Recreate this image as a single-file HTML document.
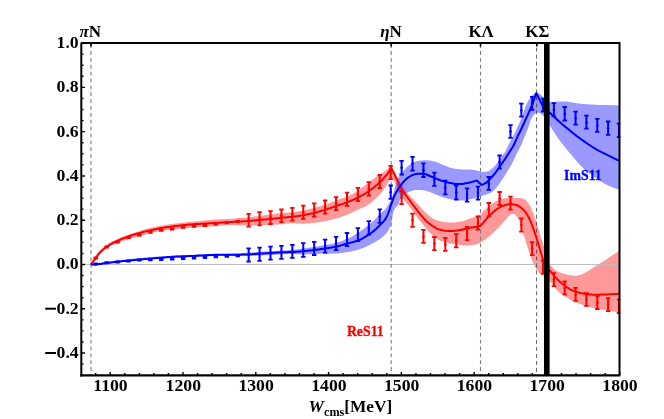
<!DOCTYPE html>
<html><head><meta charset="utf-8"><title>S11</title>
<style>html,body{margin:0;padding:0;background:#fff;font-family:"Liberation Serif",serif;}svg{display:block;will-change:transform}</style></head>
<body>
<svg width="664" height="419" viewBox="0 0 664 419">
<rect width="664" height="419" fill="#fff"/>
<defs><clipPath id="c"><rect x="81.3" y="43.4" width="539.0" height="331.8"/></clipPath></defs>
<g clip-path="url(#c)">
<polygon points="90.8,264.2 91.8,262.2 92.8,260.3 93.8,258.5 94.8,256.9 95.8,255.5 96.8,254.2 97.8,253.0 98.8,251.9 99.8,250.8 100.8,249.8 101.8,248.8 102.8,247.9 103.8,247.0 104.8,246.2 105.8,245.5 106.8,244.8 107.8,244.1 108.8,243.5 109.8,242.9 110.8,242.3 111.8,241.8 112.8,241.3 113.8,240.8 114.8,240.3 115.8,239.8 116.8,239.4 117.8,238.9 118.8,238.4 119.8,238.0 120.8,237.6 121.8,237.1 122.8,236.7 123.8,236.3 124.8,235.9 125.8,235.5 126.8,235.2 127.8,234.8 128.8,234.4 129.8,234.1 130.8,233.8 131.8,233.5 132.8,233.2 133.8,232.9 134.8,232.6 135.8,232.3 136.8,232.0 137.8,231.7 138.8,231.4 139.8,231.1 140.8,230.7 141.9,230.4 142.9,230.1 143.9,229.8 144.9,229.5 145.9,229.1 146.9,228.8 147.9,228.6 148.9,228.3 149.9,228.0 150.9,227.8 151.9,227.6 152.9,227.4 153.9,227.1 154.9,226.9 155.9,226.7 156.9,226.5 157.9,226.3 158.9,226.1 159.9,226.0 160.9,225.8 161.9,225.6 162.9,225.4 163.9,225.3 164.9,225.1 165.9,224.9 166.9,224.8 167.9,224.6 168.9,224.5 169.9,224.3 170.9,224.2 171.9,224.0 172.9,223.9 173.9,223.8 174.9,223.6 175.9,223.5 176.9,223.4 177.9,223.2 178.9,223.1 179.9,223.0 180.9,222.9 181.9,222.8 182.9,222.7 183.9,222.6 184.9,222.4 185.9,222.3 186.9,222.2 187.9,222.1 188.9,222.0 189.9,221.9 190.9,221.8 191.9,221.7 192.9,221.6 193.9,221.5 194.9,221.4 195.9,221.3 196.9,221.2 197.9,221.1 198.9,221.0 199.9,220.9 200.9,220.8 201.9,220.7 202.9,220.6 203.9,220.5 204.9,220.4 205.9,220.3 206.9,220.2 207.9,220.1 208.9,220.0 209.9,219.9 210.9,219.9 211.9,219.8 212.9,219.7 213.9,219.6 214.9,219.6 215.9,219.5 216.9,219.4 217.9,219.4 218.9,219.3 219.9,219.3 220.9,219.2 221.9,219.2 222.9,219.1 223.9,219.1 224.9,219.1 225.9,219.0 226.9,219.0 227.9,218.9 228.9,218.9 229.9,218.8 230.9,218.7 231.9,218.7 232.9,218.6 233.9,218.5 234.9,218.4 235.9,218.4 236.9,218.3 237.9,218.2 238.9,218.1 239.9,218.0 240.9,217.9 242.0,217.8 243.0,217.8 244.0,217.7 245.0,217.6 246.0,217.5 247.0,217.4 248.0,217.3 249.0,217.2 250.0,217.1 251.0,217.0 252.0,216.9 253.0,216.7 254.0,216.6 255.0,216.5 256.0,216.4 257.0,216.3 258.0,216.2 259.0,216.1 260.0,216.0 261.0,215.8 262.0,215.7 263.0,215.6 264.0,215.4 265.0,215.3 266.0,215.1 267.0,215.0 268.0,214.8 269.0,214.7 270.0,214.6 271.0,214.4 272.0,214.3 273.0,214.2 274.0,214.0 275.0,213.9 276.0,213.7 277.0,213.6 278.0,213.5 279.0,213.4 280.0,213.2 281.0,213.1 282.0,213.0 283.0,213.0 284.0,212.9 285.0,212.8 286.0,212.8 287.0,212.7 288.0,212.6 289.0,212.6 290.0,212.5 291.0,212.4 292.0,212.3 293.0,212.2 294.0,212.1 295.0,212.0 296.0,211.8 297.0,211.6 298.0,211.4 299.0,211.3 300.0,211.1 301.0,210.9 302.0,210.7 303.0,210.5 304.0,210.3 305.0,210.0 306.0,209.8 307.0,209.6 308.0,209.4 309.0,209.1 310.0,208.9 311.0,208.6 312.0,208.4 313.0,208.1 314.0,207.8 315.0,207.6 316.0,207.3 317.0,207.0 318.0,206.8 319.0,206.5 320.0,206.2 321.0,205.9 322.0,205.6 323.0,205.3 324.0,204.9 325.0,204.6 326.0,204.3 327.0,203.9 328.0,203.6 329.0,203.2 330.0,202.8 331.0,202.5 332.0,202.1 333.0,201.7 334.0,201.3 335.0,201.0 336.0,200.6 337.0,200.2 338.0,199.9 339.0,199.5 340.0,199.1 341.1,198.8 342.1,198.4 343.1,198.0 344.1,197.7 345.1,197.3 346.1,197.0 347.1,196.6 348.1,196.2 349.1,195.8 350.1,195.3 351.1,194.8 352.1,194.3 353.1,193.7 354.1,193.1 355.1,192.4 356.1,191.8 357.1,191.1 358.1,190.4 359.1,189.7 360.1,189.0 361.1,188.3 362.1,187.5 363.1,186.8 364.1,186.0 365.1,185.2 366.1,184.5 367.1,183.7 368.1,182.9 369.1,182.2 370.1,181.4 371.1,180.6 372.1,179.9 373.1,179.1 374.1,178.4 375.1,177.7 376.1,176.9 377.1,176.3 378.1,175.6 379.1,175.0 380.1,174.3 381.1,173.7 382.1,173.0 383.1,172.4 384.1,171.7 385.1,171.0 386.1,170.3 387.1,169.5 388.1,168.7 389.1,167.8 390.1,166.8 391.1,165.8 392.1,167.6 393.1,169.4 394.1,171.2 395.1,173.1 396.1,175.0 397.1,176.8 398.1,178.6 399.2,180.3 400.2,182.0 401.2,183.7 402.2,185.3 403.2,187.0 404.2,188.7 405.2,190.4 406.2,191.8 407.2,193.0 408.2,194.0 409.2,195.1 410.2,196.1 411.2,197.2 412.2,198.2 413.2,199.3 414.3,200.3 415.3,201.4 416.3,202.5 417.3,203.6 418.3,204.7 419.3,205.8 420.3,206.9 421.3,208.0 422.3,209.1 423.3,210.2 424.3,211.2 425.3,212.2 426.3,213.2 427.3,214.2 428.3,215.1 429.4,215.9 430.4,216.7 431.4,217.5 432.4,218.2 433.4,218.7 434.4,219.2 435.4,219.7 436.4,220.1 437.4,220.4 438.4,220.7 439.4,221.0 440.4,221.3 441.4,221.6 442.4,221.8 443.5,221.9 444.5,222.0 445.5,222.2 446.5,222.2 447.5,222.3 448.5,222.4 449.5,222.5 450.5,222.5 451.5,222.5 452.5,222.5 453.5,222.4 454.5,222.4 455.5,222.3 456.5,222.2 457.5,222.1 458.6,222.0 459.6,221.8 460.6,221.6 461.6,221.4 462.6,221.2 463.6,220.9 464.6,220.6 465.6,220.2 466.6,219.8 467.6,219.5 468.6,219.1 469.6,218.7 470.6,218.3 471.6,218.0 472.6,217.6 473.7,217.2 474.7,216.8 475.7,216.4 476.7,216.0 477.7,215.6 478.7,215.1 479.7,214.7 480.7,214.3 481.7,212.9 482.7,211.7 483.7,210.7 484.7,209.8 485.7,209.0 486.7,208.2 487.7,207.4 488.7,206.5 489.7,205.7 490.7,205.0 491.7,204.2 492.7,203.4 493.7,202.7 494.7,202.0 495.7,201.4 496.7,200.8 497.7,200.4 498.7,200.0 499.7,199.6 500.7,199.3 501.7,199.0 502.7,198.8 503.7,198.6 504.7,198.4 505.7,198.3 506.7,198.2 507.7,198.2 508.7,198.2 509.7,198.1 510.7,198.1 511.7,198.1 512.7,198.0 513.7,198.0 514.7,198.0 515.7,198.0 516.7,198.0 517.7,198.0 518.7,198.1 519.7,198.1 520.7,198.2 521.7,198.2 522.7,198.5 523.7,198.9 524.7,199.4 525.7,200.1 526.7,201.1 527.7,202.3 528.7,203.7 529.7,205.5 530.7,207.4 531.7,209.6 532.7,212.1 533.7,214.6 534.7,217.3 535.7,220.1 536.7,223.1 537.7,226.3 538.7,229.6 539.7,232.9 540.7,236.4 541.7,239.8 542.7,242.6 543.7,245.2 544.7,248.3 545.7,251.7 546.7,255.0 547.7,258.2 548.7,261.1 549.7,264.0 550.7,265.4 551.7,266.6 552.7,267.7 553.7,268.7 554.7,269.5 555.7,270.3 556.7,270.9 557.7,271.5 558.7,271.9 559.7,272.4 560.7,272.8 561.7,273.1 562.7,273.4 563.7,273.7 564.7,274.0 565.7,274.2 566.7,274.5 567.7,274.7 568.7,274.9 569.7,275.1 570.7,275.2 571.7,275.4 572.7,275.5 573.7,275.6 574.7,275.7 575.7,275.7 576.7,275.7 577.7,275.5 578.7,275.3 579.7,275.1 580.7,274.8 581.7,274.5 582.7,274.0 583.7,273.5 584.7,272.9 585.7,272.4 586.7,271.8 587.7,271.2 588.7,270.6 589.7,269.9 590.7,269.3 591.7,268.7 592.7,268.0 593.7,267.4 594.7,266.8 595.7,266.1 596.7,265.5 597.7,264.9 598.7,264.2 599.7,263.6 600.7,263.0 601.7,262.3 602.7,261.7 603.7,261.1 604.7,260.4 605.7,259.8 606.7,259.1 607.7,258.4 608.7,257.8 609.7,257.1 610.7,256.4 611.7,255.7 612.7,255.1 613.7,254.5 614.7,253.8 615.7,253.2 616.7,252.6 617.7,252.0 618.7,251.5 619.7,250.9 619.7,312.2 618.7,312.1 617.7,311.9 616.7,311.8 615.7,311.7 614.7,311.6 613.7,311.4 612.7,311.3 611.7,311.2 610.7,311.1 609.7,311.0 608.7,310.8 607.7,310.7 606.7,310.5 605.7,310.3 604.7,310.1 603.7,309.9 602.7,309.8 601.7,309.6 600.7,309.5 599.7,309.3 598.7,309.2 597.7,309.0 596.7,308.8 595.7,308.6 594.7,308.3 593.7,308.1 592.7,307.8 591.7,307.6 590.7,307.3 589.7,307.0 588.7,306.7 587.7,306.4 586.7,306.1 585.7,305.8 584.7,305.5 583.7,305.2 582.7,304.9 581.7,304.6 580.7,304.3 579.7,303.9 578.7,303.6 577.7,303.2 576.7,302.8 575.7,302.4 574.7,302.0 573.7,301.5 572.7,301.0 571.7,300.5 570.7,299.9 569.7,299.4 568.7,298.7 567.7,298.1 566.7,297.4 565.7,296.8 564.7,296.2 563.7,295.6 562.7,295.0 561.7,294.3 560.7,293.6 559.7,292.8 558.7,291.9 557.7,290.8 556.7,289.7 555.7,288.4 554.7,287.2 553.7,286.0 552.7,284.6 551.7,283.3 550.7,282.0 549.7,280.9 548.7,280.0 547.7,279.2 546.7,278.4 545.7,277.7 544.7,277.0 543.7,276.3 542.7,275.7 541.7,275.0 540.7,274.3 539.7,273.4 538.7,272.3 537.7,271.0 536.7,269.7 535.7,268.0 534.7,266.2 533.7,264.2 532.7,261.9 531.7,259.4 530.7,256.8 529.7,254.0 528.7,250.9 527.7,247.7 526.7,244.5 525.7,241.2 524.7,238.0 523.7,235.1 522.7,232.0 521.7,228.0 520.7,224.2 519.7,221.5 518.7,219.6 517.7,217.9 516.7,216.4 515.7,215.2 514.7,214.2 513.7,213.9 512.7,213.9 511.7,214.1 510.7,214.6 509.7,215.3 508.7,216.2 507.7,217.2 506.7,218.4 505.7,219.6 504.7,220.7 503.7,221.9 502.7,223.0 501.7,224.1 500.7,225.2 499.7,226.3 498.7,227.4 497.7,228.4 496.7,229.5 495.7,230.4 494.7,231.4 493.7,232.4 492.7,233.3 491.7,234.2 490.7,235.1 489.7,236.0 488.7,236.8 487.7,237.6 486.7,238.4 485.7,239.2 484.7,239.9 483.7,240.6 482.7,241.3 481.7,242.0 480.7,242.6 479.7,243.1 478.7,243.6 477.7,244.0 476.7,244.3 475.7,244.5 474.7,244.7 473.7,244.9 472.6,245.0 471.6,245.1 470.6,245.2 469.6,245.3 468.6,245.4 467.6,245.4 466.6,245.4 465.6,245.3 464.6,245.3 463.6,245.2 462.6,245.2 461.6,245.1 460.6,245.0 459.6,244.8 458.6,244.7 457.5,244.6 456.5,244.5 455.5,244.3 454.5,244.2 453.5,244.0 452.5,243.9 451.5,243.8 450.5,243.6 449.5,243.4 448.5,243.2 447.5,242.9 446.5,242.7 445.5,242.4 444.5,242.1 443.5,241.8 442.4,241.5 441.4,241.1 440.4,240.7 439.4,240.2 438.4,239.7 437.4,239.1 436.4,238.4 435.4,237.7 434.4,237.0 433.4,236.1 432.4,235.2 431.4,234.3 430.4,233.3 429.4,232.2 428.3,231.1 427.3,229.9 426.3,228.7 425.3,227.5 424.3,226.2 423.3,224.8 422.3,223.6 421.3,222.5 420.3,221.4 419.3,220.2 418.3,218.9 417.3,217.5 416.3,216.1 415.3,214.6 414.3,213.2 413.2,211.7 412.2,210.3 411.2,208.9 410.2,207.6 409.2,206.4 408.2,205.2 407.2,204.0 406.2,202.9 405.2,201.6 404.2,200.4 403.2,199.1 402.2,197.8 401.2,196.5 400.2,194.9 399.2,193.0 398.1,190.6 397.1,188.1 396.1,185.6 395.1,183.3 394.1,181.2 393.1,179.2 392.1,177.3 391.1,175.5 390.1,178.7 389.1,180.8 388.1,182.5 387.1,184.3 386.1,186.0 385.1,187.6 384.1,189.1 383.1,190.5 382.1,191.8 381.1,193.0 380.1,194.2 379.1,195.3 378.1,196.3 377.1,197.3 376.1,198.3 375.1,199.2 374.1,200.1 373.1,200.9 372.1,201.7 371.1,202.6 370.1,203.4 369.1,204.1 368.1,204.8 367.1,205.5 366.1,206.0 365.1,206.5 364.1,207.0 363.1,207.4 362.1,207.9 361.1,208.3 360.1,208.8 359.1,209.3 358.1,209.8 357.1,210.2 356.1,210.7 355.1,211.2 354.1,211.6 353.1,212.1 352.1,212.6 351.1,213.0 350.1,213.5 349.1,213.9 348.1,214.3 347.1,214.7 346.1,215.1 345.1,215.5 344.1,215.9 343.1,216.2 342.1,216.6 341.1,216.9 340.0,217.3 339.0,217.6 338.0,217.9 337.0,218.2 336.0,218.5 335.0,218.8 334.0,219.0 333.0,219.3 332.0,219.6 331.0,219.9 330.0,220.1 329.0,220.3 328.0,220.6 327.0,220.8 326.0,221.0 325.0,221.2 324.0,221.4 323.0,221.6 322.0,221.8 321.0,221.9 320.0,222.1 319.0,222.3 318.0,222.4 317.0,222.6 316.0,222.7 315.0,222.8 314.0,222.9 313.0,223.0 312.0,223.1 311.0,223.2 310.0,223.3 309.0,223.4 308.0,223.5 307.0,223.6 306.0,223.6 305.0,223.7 304.0,223.7 303.0,223.7 302.0,223.7 301.0,223.6 300.0,223.6 299.0,223.5 298.0,223.5 297.0,223.4 296.0,223.3 295.0,223.3 294.0,223.2 293.0,223.2 292.0,223.2 291.0,223.2 290.0,223.3 289.0,223.4 288.0,223.5 287.0,223.6 286.0,223.7 285.0,223.8 284.0,223.9 283.0,224.1 282.0,224.2 281.0,224.2 280.0,224.3 279.0,224.4 278.0,224.4 277.0,224.5 276.0,224.6 275.0,224.6 274.0,224.7 273.0,224.8 272.0,224.8 271.0,224.9 270.0,224.9 269.0,225.0 268.0,225.0 267.0,225.1 266.0,225.1 265.0,225.2 264.0,225.2 263.0,225.3 262.0,225.3 261.0,225.4 260.0,225.4 259.0,225.4 258.0,225.4 257.0,225.5 256.0,225.5 255.0,225.5 254.0,225.5 253.0,225.6 252.0,225.6 251.0,225.6 250.0,225.6 249.0,225.6 248.0,225.6 247.0,225.6 246.0,225.6 245.0,225.6 244.0,225.5 243.0,225.5 242.0,225.5 240.9,225.5 239.9,225.4 238.9,225.4 237.9,225.4 236.9,225.3 235.9,225.3 234.9,225.2 233.9,225.1 232.9,225.1 231.9,225.0 230.9,225.0 229.9,225.0 228.9,225.0 227.9,225.1 226.9,225.1 225.9,225.2 224.9,225.3 223.9,225.4 222.9,225.5 221.9,225.6 220.9,225.8 219.9,225.9 218.9,226.0 217.9,226.1 216.9,226.2 215.9,226.3 214.9,226.4 213.9,226.4 212.9,226.5 211.9,226.6 210.9,226.6 209.9,226.7 208.9,226.7 207.9,226.8 206.9,226.8 205.9,226.9 204.9,227.0 203.9,227.0 202.9,227.1 201.9,227.1 200.9,227.2 199.9,227.2 198.9,227.3 197.9,227.3 196.9,227.4 195.9,227.5 194.9,227.5 193.9,227.6 192.9,227.7 191.9,227.8 190.9,227.8 189.9,227.9 188.9,228.0 187.9,228.1 186.9,228.2 185.9,228.3 184.9,228.4 183.9,228.5 182.9,228.5 181.9,228.6 180.9,228.7 179.9,228.8 178.9,228.9 177.9,229.1 176.9,229.2 175.9,229.3 174.9,229.4 173.9,229.5 172.9,229.6 171.9,229.7 170.9,229.8 169.9,230.0 168.9,230.1 167.9,230.2 166.9,230.3 165.9,230.4 164.9,230.6 163.9,230.7 162.9,230.8 161.9,231.0 160.9,231.1 159.9,231.2 158.9,231.4 157.9,231.5 156.9,231.7 155.9,231.9 154.9,232.0 153.9,232.2 152.9,232.4 151.9,232.6 150.9,232.8 149.9,233.0 148.9,233.3 147.9,233.6 146.9,233.9 145.9,234.3 144.9,234.7 143.9,235.0 142.9,235.4 141.9,235.8 140.8,236.2 139.8,236.5 138.8,236.8 137.8,237.0 136.8,237.2 135.8,237.5 134.8,237.7 133.8,237.9 132.8,238.1 131.8,238.3 130.8,238.6 129.8,238.8 128.8,239.1 127.8,239.4 126.8,239.7 125.8,240.0 124.8,240.4 123.8,240.7 122.8,241.1 121.8,241.5 120.8,241.9 119.8,242.3 118.8,242.7 117.8,243.1 116.8,243.5 115.8,243.9 114.8,244.3 113.8,244.7 112.8,245.1 111.8,245.5 110.8,246.0 109.8,246.4 108.8,246.9 107.8,247.5 106.8,248.1 105.8,248.7 104.8,249.5 103.8,250.4 102.8,251.4 101.8,252.4 100.8,253.6 99.8,254.7 98.8,255.8 97.8,257.0 96.8,258.1 95.8,259.2 94.8,260.2 93.8,261.3 92.8,262.4 91.8,263.5 90.8,264.6" fill="rgba(255,0,0,0.4)" stroke="none"/>
<polygon points="90.8,264.2 91.8,264.0 92.8,263.9 93.8,263.7 94.8,263.5 95.8,263.4 96.8,263.2 97.8,263.1 98.8,262.9 99.8,262.8 100.8,262.6 101.8,262.5 102.8,262.3 103.8,262.2 104.8,262.0 105.8,261.9 106.8,261.8 107.8,261.6 108.8,261.5 109.8,261.4 110.8,261.2 111.8,261.1 112.8,261.0 113.8,260.9 114.8,260.7 115.8,260.6 116.8,260.5 117.8,260.4 118.8,260.3 119.8,260.1 120.9,260.0 121.9,259.9 122.9,259.8 123.9,259.7 124.9,259.6 125.9,259.5 126.9,259.4 127.9,259.3 128.9,259.2 129.9,259.0 130.9,258.9 131.9,258.8 132.9,258.7 133.9,258.6 134.9,258.5 135.9,258.4 136.9,258.3 137.9,258.2 138.9,258.2 139.9,258.1 140.9,258.0 141.9,257.9 142.9,257.8 143.9,257.7 144.9,257.6 145.9,257.5 146.9,257.4 147.9,257.4 148.9,257.3 149.9,257.2 150.9,257.1 151.9,257.1 152.9,257.0 153.9,256.9 154.9,256.8 155.9,256.8 156.9,256.7 157.9,256.6 158.9,256.6 159.9,256.5 160.9,256.5 161.9,256.4 162.9,256.3 163.9,256.3 164.9,256.2 165.9,256.2 166.9,256.1 167.9,256.0 168.9,256.0 169.9,255.9 170.9,255.9 171.9,255.8 172.9,255.8 173.9,255.7 174.9,255.6 175.9,255.6 176.9,255.5 177.9,255.5 179.0,255.4 180.0,255.4 181.0,255.3 182.0,255.3 183.0,255.2 184.0,255.2 185.0,255.1 186.0,255.1 187.0,255.0 188.0,255.0 189.0,254.9 190.0,254.9 191.0,254.8 192.0,254.8 193.0,254.7 194.0,254.7 195.0,254.7 196.0,254.6 197.0,254.6 198.0,254.5 199.0,254.5 200.0,254.5 201.0,254.4 202.0,254.4 203.0,254.4 204.0,254.3 205.0,254.3 206.0,254.3 207.0,254.2 208.0,254.2 209.0,254.2 210.0,254.1 211.0,254.1 212.0,254.1 213.0,254.1 214.0,254.0 215.0,254.0 216.0,254.0 217.0,254.0 218.0,254.0 219.0,254.0 220.0,253.9 221.0,253.9 222.0,253.9 223.0,253.9 224.0,253.9 225.0,253.9 226.0,253.9 227.0,253.9 228.0,253.8 229.0,253.8 230.0,253.8 231.0,253.8 232.0,253.7 233.0,253.7 234.0,253.7 235.0,253.6 236.0,253.5 237.0,253.5 238.1,253.4 239.1,253.4 240.1,253.3 241.1,253.2 242.1,253.2 243.1,253.1 244.1,253.0 245.1,252.9 246.1,252.9 247.1,252.8 248.1,252.7 249.1,252.7 250.1,252.6 251.1,252.5 252.1,252.5 253.1,252.4 254.1,252.3 255.1,252.3 256.1,252.2 257.1,252.1 258.1,252.0 259.1,252.0 260.1,251.9 261.1,251.8 262.1,251.8 263.1,251.7 264.1,251.6 265.1,251.6 266.1,251.5 267.1,251.4 268.1,251.4 269.1,251.3 270.1,251.2 271.1,251.2 272.1,251.1 273.1,251.1 274.1,251.0 275.1,250.9 276.1,250.9 277.1,250.8 278.1,250.8 279.1,250.7 280.1,250.7 281.1,250.6 282.1,250.6 283.1,250.5 284.1,250.5 285.1,250.4 286.1,250.3 287.1,250.2 288.1,250.2 289.1,250.1 290.1,250.0 291.1,249.9 292.1,249.8 293.1,249.7 294.1,249.6 295.1,249.5 296.1,249.4 297.2,249.3 298.2,249.2 299.2,249.0 300.2,248.9 301.2,248.8 302.2,248.6 303.2,248.5 304.2,248.4 305.2,248.2 306.2,248.1 307.2,248.0 308.2,247.8 309.2,247.7 310.2,247.5 311.2,247.4 312.2,247.2 313.2,247.1 314.2,246.9 315.2,246.7 316.2,246.6 317.2,246.4 318.2,246.2 319.2,246.1 320.2,245.9 321.2,245.7 322.2,245.5 323.2,245.4 324.2,245.2 325.2,245.0 326.2,244.8 327.2,244.6 328.2,244.4 329.2,244.2 330.2,244.1 331.2,243.9 332.2,243.7 333.2,243.4 334.2,243.2 335.2,243.0 336.2,242.7 337.2,242.5 338.2,242.2 339.2,241.9 340.2,241.6 341.2,241.2 342.2,240.9 343.2,240.5 344.2,240.1 345.2,239.8 346.2,239.3 347.2,238.9 348.2,238.4 349.2,237.9 350.2,237.4 351.2,236.9 352.2,236.4 353.2,235.8 354.2,235.2 355.3,234.6 356.3,234.0 357.3,233.4 358.3,232.7 359.3,232.0 360.3,231.3 361.3,230.6 362.3,229.9 363.3,229.1 364.3,228.4 365.3,227.6 366.3,226.8 367.3,226.1 368.3,225.2 369.3,224.4 370.3,223.6 371.3,222.7 372.3,221.8 373.3,220.9 374.3,219.9 375.3,219.0 376.3,218.0 377.3,217.0 378.3,216.0 379.3,215.1 380.3,214.1 381.3,213.1 382.3,212.1 383.3,211.1 384.3,210.1 385.3,208.9 386.3,207.7 387.3,206.2 388.3,204.6 389.3,203.0 390.3,201.2 391.3,199.0 392.3,196.1 393.3,193.1 394.3,189.8 395.3,186.6 396.3,183.3 397.3,180.1 398.3,177.6 399.3,175.9 400.3,174.5 401.3,173.3 402.3,172.1 403.3,171.0 404.3,169.9 405.3,168.8 406.3,167.7 407.3,166.7 408.3,165.8 409.3,165.0 410.3,164.3 411.3,163.5 412.3,162.9 413.3,162.3 414.4,161.9 415.4,161.6 416.4,161.3 417.4,161.1 418.4,160.9 419.4,160.7 420.4,160.6 421.4,160.5 422.4,160.4 423.4,160.3 424.4,160.2 425.4,160.2 426.4,160.2 427.4,160.3 428.4,160.4 429.4,160.5 430.4,160.6 431.4,160.7 432.4,160.9 433.4,161.2 434.4,161.5 435.4,161.7 436.4,162.1 437.4,162.4 438.4,162.9 439.4,163.3 440.4,163.8 441.4,164.2 442.4,164.7 443.4,165.1 444.4,165.5 445.4,165.9 446.4,166.3 447.4,166.6 448.4,167.0 449.4,167.4 450.4,167.7 451.4,168.0 452.4,168.2 453.4,168.5 454.4,168.7 455.4,168.8 456.4,169.0 457.4,169.1 458.4,169.2 459.4,169.2 460.4,169.3 461.4,169.4 462.4,169.4 463.4,169.4 464.4,169.4 465.4,169.4 466.4,169.4 467.4,169.4 468.4,169.4 469.4,169.4 470.4,169.5 471.4,169.6 472.4,169.8 473.5,169.9 474.5,170.1 475.5,170.3 476.5,170.6 477.5,170.8 478.5,171.1 479.5,171.3 480.5,171.5 481.5,171.7 482.5,171.9 483.5,172.0 484.5,172.0 485.5,171.8 486.5,171.6 487.5,171.4 488.5,171.0 489.5,170.4 490.5,169.8 491.5,169.1 492.5,168.3 493.5,167.3 494.5,166.3 495.5,165.2 496.5,163.9 497.5,162.6 498.5,161.3 499.5,159.9 500.5,158.5 501.5,157.0 502.5,155.6 503.5,154.3 504.5,152.9 505.5,151.2 506.5,149.0 507.5,146.9 508.5,145.0 509.5,143.1 510.5,141.3 511.5,139.4 512.5,137.5 513.5,135.5 514.5,133.5 515.5,131.4 516.5,129.3 517.5,127.1 518.5,124.9 519.5,122.6 520.5,120.2 521.5,117.6 522.5,114.9 523.5,112.1 524.5,109.5 525.5,106.8 526.5,104.3 527.5,102.3 528.5,100.5 529.5,99.0 530.5,97.5 531.6,96.2 532.6,95.0 533.6,94.1 534.6,93.2 535.6,92.5 536.6,92.4 537.6,92.8 538.6,93.3 539.6,93.9 540.6,94.6 541.6,95.4 542.6,96.3 543.6,97.3 544.6,98.2 545.6,99.2 546.6,100.1 547.6,100.9 548.6,101.6 549.6,101.8 550.6,101.9 551.6,101.9 552.6,102.0 553.6,102.0 554.6,102.0 555.6,101.8 556.6,101.6 557.6,101.6 558.6,101.5 559.6,101.5 560.6,101.5 561.6,101.4 562.6,101.4 563.6,101.4 564.6,101.4 565.6,101.5 566.6,101.5 567.6,101.7 568.6,101.9 569.6,102.0 570.6,102.2 571.6,102.4 572.6,102.6 573.6,102.8 574.6,102.9 575.6,103.0 576.6,103.2 577.6,103.3 578.6,103.4 579.6,103.6 580.6,103.7 581.6,103.8 582.6,103.9 583.6,104.0 584.6,104.1 585.6,104.2 586.6,104.2 587.6,104.3 588.6,104.4 589.6,104.4 590.7,104.5 591.7,104.5 592.7,104.6 593.7,104.6 594.7,104.7 595.7,104.7 596.7,104.8 597.7,104.8 598.7,104.9 599.7,104.9 600.7,104.9 601.7,105.0 602.7,105.0 603.7,105.0 604.7,105.0 605.7,105.1 606.7,105.1 607.7,105.1 608.7,105.1 609.7,105.1 610.7,105.2 611.7,105.2 612.7,105.2 613.7,105.2 614.7,105.3 615.7,105.3 616.7,105.3 617.7,105.3 618.7,105.4 619.7,105.4 619.7,189.9 618.7,189.6 617.7,189.3 616.7,188.9 615.7,188.6 614.7,188.2 613.7,187.8 612.7,187.4 611.7,187.0 610.7,186.6 609.7,186.2 608.7,185.7 607.7,185.3 606.7,184.8 605.7,184.3 604.7,183.7 603.7,183.2 602.7,182.6 601.7,182.0 600.7,181.3 599.7,180.7 598.7,180.0 597.7,179.3 596.7,178.6 595.7,177.9 594.7,177.2 593.7,176.4 592.7,175.7 591.7,175.0 590.7,174.2 589.6,173.4 588.6,172.7 587.6,171.9 586.6,171.0 585.6,170.2 584.6,169.4 583.6,168.5 582.6,167.6 581.6,166.6 580.6,165.6 579.6,164.6 578.6,163.4 577.6,162.3 576.6,161.1 575.6,159.9 574.6,158.7 573.6,157.5 572.6,156.4 571.6,155.2 570.6,154.0 569.6,152.9 568.6,151.7 567.6,150.5 566.6,149.2 565.6,148.0 564.6,146.8 563.6,145.6 562.6,144.3 561.6,143.1 560.6,141.7 559.6,140.4 558.6,139.0 557.6,137.6 556.6,136.1 555.6,134.6 554.6,133.0 553.6,131.5 552.6,129.9 551.6,128.3 550.6,126.7 549.6,125.1 548.6,123.5 547.6,121.8 546.6,120.1 545.6,118.5 544.6,117.1 543.6,116.0 542.6,115.0 541.6,114.2 540.6,113.6 539.6,113.1 538.6,112.7 537.6,112.6 536.6,112.9 535.6,113.5 534.6,114.3 533.6,115.3 532.6,116.6 531.6,118.3 530.5,120.7 529.5,123.7 528.5,126.8 527.5,129.4 526.5,132.0 525.5,134.5 524.5,136.9 523.5,139.4 522.5,141.9 521.5,144.4 520.5,146.6 519.5,148.6 518.5,150.2 517.5,152.0 516.5,154.1 515.5,156.2 514.5,158.4 513.5,160.4 512.5,162.5 511.5,164.4 510.5,166.2 509.5,167.8 508.5,169.4 507.5,171.0 506.5,172.7 505.5,174.4 504.5,176.0 503.5,177.6 502.5,179.1 501.5,180.7 500.5,182.1 499.5,183.5 498.5,184.9 497.5,186.2 496.5,187.4 495.5,188.6 494.5,189.7 493.5,190.7 492.5,191.5 491.5,192.2 490.5,192.8 489.5,193.3 488.5,193.7 487.5,194.1 486.5,194.4 485.5,194.7 484.5,195.1 483.5,195.4 482.5,195.7 481.5,196.1 480.5,196.5 479.5,196.9 478.5,197.4 477.5,197.9 476.5,198.1 475.5,198.3 474.5,198.5 473.5,198.6 472.4,198.8 471.4,199.0 470.4,199.2 469.4,199.5 468.4,199.8 467.4,200.1 466.4,200.4 465.4,200.5 464.4,200.5 463.4,200.5 462.4,200.5 461.4,200.4 460.4,200.4 459.4,200.4 458.4,200.3 457.4,200.2 456.4,200.1 455.4,200.0 454.4,199.8 453.4,199.7 452.4,199.6 451.4,199.4 450.4,199.2 449.4,199.0 448.4,198.8 447.4,198.6 446.4,198.3 445.4,198.0 444.4,197.7 443.4,197.4 442.4,197.1 441.4,196.8 440.4,196.4 439.4,196.0 438.4,195.6 437.4,195.2 436.4,194.8 435.4,194.4 434.4,193.9 433.4,193.5 432.4,193.1 431.4,192.7 430.4,192.3 429.4,191.9 428.4,191.6 427.4,191.2 426.4,190.9 425.4,190.6 424.4,190.4 423.4,190.3 422.4,190.2 421.4,190.1 420.4,190.1 419.4,190.0 418.4,190.0 417.4,190.0 416.4,190.0 415.4,190.1 414.4,190.3 413.3,190.5 412.3,190.8 411.3,191.1 410.3,191.5 409.3,191.8 408.3,192.2 407.3,192.7 406.3,193.3 405.3,193.9 404.3,194.6 403.3,195.3 402.3,196.3 401.3,197.5 400.3,199.3 399.3,201.8 398.3,204.9 397.3,206.0 396.3,206.7 395.3,207.9 394.3,209.6 393.3,211.7 392.3,218.3 391.3,223.5 390.3,226.5 389.3,228.7 388.3,230.4 387.3,231.9 386.3,233.2 385.3,234.3 384.3,235.3 383.3,236.2 382.3,237.1 381.3,237.9 380.3,238.6 379.3,239.4 378.3,240.0 377.3,240.7 376.3,241.3 375.3,241.9 374.3,242.5 373.3,243.0 372.3,243.6 371.3,244.1 370.3,244.6 369.3,245.2 368.3,245.7 367.3,246.1 366.3,246.6 365.3,247.0 364.3,247.4 363.3,247.8 362.3,248.2 361.3,248.6 360.3,249.0 359.3,249.3 358.3,249.6 357.3,249.9 356.3,250.2 355.3,250.5 354.2,250.7 353.2,250.9 352.2,251.2 351.2,251.4 350.2,251.6 349.2,251.7 348.2,251.9 347.2,252.1 346.2,252.3 345.2,252.4 344.2,252.6 343.2,252.8 342.2,252.9 341.2,253.1 340.2,253.2 339.2,253.3 338.2,253.4 337.2,253.4 336.2,253.5 335.2,253.5 334.2,253.6 333.2,253.6 332.2,253.6 331.2,253.7 330.2,253.7 329.2,253.7 328.2,253.7 327.2,253.7 326.2,253.7 325.2,253.7 324.2,253.8 323.2,253.8 322.2,253.8 321.2,253.8 320.2,253.8 319.2,253.8 318.2,253.9 317.2,253.9 316.2,253.9 315.2,254.0 314.2,254.1 313.2,254.1 312.2,254.2 311.2,254.2 310.2,254.2 309.2,254.3 308.2,254.3 307.2,254.3 306.2,254.4 305.2,254.4 304.2,254.4 303.2,254.4 302.2,254.4 301.2,254.4 300.2,254.3 299.2,254.3 298.2,254.3 297.2,254.2 296.1,254.2 295.1,254.1 294.1,254.1 293.1,254.1 292.1,254.1 291.1,254.1 290.1,254.1 289.1,254.1 288.1,254.1 287.1,254.2 286.1,254.2 285.1,254.2 284.1,254.2 283.1,254.3 282.1,254.3 281.1,254.4 280.1,254.4 279.1,254.5 278.1,254.6 277.1,254.7 276.1,254.7 275.1,254.8 274.1,254.9 273.1,255.0 272.1,255.0 271.1,255.1 270.1,255.1 269.1,255.2 268.1,255.2 267.1,255.3 266.1,255.3 265.1,255.3 264.1,255.4 263.1,255.4 262.1,255.5 261.1,255.5 260.1,255.5 259.1,255.6 258.1,255.6 257.1,255.7 256.1,255.7 255.1,255.7 254.1,255.7 253.1,255.8 252.1,255.8 251.1,255.8 250.1,255.8 249.1,255.8 248.1,255.8 247.1,255.8 246.1,255.8 245.1,255.8 244.1,255.8 243.1,255.8 242.1,255.8 241.1,255.8 240.1,255.8 239.1,255.8 238.1,255.8 237.0,255.8 236.0,255.8 235.0,255.8 234.0,255.8 233.0,255.8 232.0,255.8 231.0,255.8 230.0,255.8 229.0,255.8 228.0,255.8 227.0,255.8 226.0,255.8 225.0,255.9 224.0,255.9 223.0,255.9 222.0,255.9 221.0,256.0 220.0,256.0 219.0,256.0 218.0,256.0 217.0,256.1 216.0,256.1 215.0,256.1 214.0,256.2 213.0,256.2 212.0,256.2 211.0,256.3 210.0,256.3 209.0,256.3 208.0,256.4 207.0,256.4 206.0,256.5 205.0,256.5 204.0,256.5 203.0,256.6 202.0,256.6 201.0,256.7 200.0,256.7 199.0,256.8 198.0,256.8 197.0,256.9 196.0,256.9 195.0,257.0 194.0,257.0 193.0,257.0 192.0,257.1 191.0,257.1 190.0,257.2 189.0,257.2 188.0,257.3 187.0,257.3 186.0,257.3 185.0,257.4 184.0,257.4 183.0,257.5 182.0,257.5 181.0,257.6 180.0,257.6 179.0,257.7 177.9,257.7 176.9,257.8 175.9,257.8 174.9,257.9 173.9,257.9 172.9,258.0 171.9,258.0 170.9,258.1 169.9,258.1 168.9,258.2 167.9,258.2 166.9,258.3 165.9,258.3 164.9,258.4 163.9,258.4 162.9,258.5 161.9,258.5 160.9,258.6 159.9,258.7 158.9,258.7 157.9,258.8 156.9,258.8 155.9,258.9 154.9,259.0 153.9,259.0 152.9,259.1 151.9,259.2 150.9,259.2 149.9,259.3 148.9,259.4 147.9,259.5 146.9,259.5 145.9,259.6 144.9,259.7 143.9,259.8 142.9,259.9 141.9,259.9 140.9,260.0 139.9,260.1 138.9,260.2 137.9,260.3 136.9,260.4 135.9,260.5 134.9,260.6 133.9,260.7 132.9,260.8 131.9,260.9 130.9,261.0 129.9,261.1 128.9,261.2 127.9,261.3 126.9,261.4 125.9,261.5 124.9,261.6 123.9,261.7 122.9,261.8 121.9,261.9 120.9,262.0 119.8,262.1 118.8,262.2 117.8,262.3 116.8,262.4 115.8,262.5 114.8,262.7 113.8,262.8 112.8,262.9 111.8,263.0 110.8,263.1 109.8,263.2 108.8,263.3 107.8,263.4 106.8,263.5 105.8,263.6 104.8,263.7 103.8,263.8 102.8,263.8 101.8,263.9 100.8,264.0 99.8,264.1 98.8,264.2 97.8,264.3 96.8,264.3 95.8,264.4 94.8,264.5 93.8,264.6 92.8,264.7 91.8,264.7 90.8,264.8" fill="rgba(0,0,255,0.4)" stroke="none"/>
<line x1="81.3" x2="619.5" y1="264.5" y2="264.5" stroke="#bebebe" stroke-width="1"/>
<line x1="91.0" x2="91.0" y1="44.23" y2="375.2" stroke="#7c7c7c" stroke-width="1.1" stroke-dasharray="3.8 3.07"/>
<line x1="391.2" x2="391.2" y1="44.23" y2="375.2" stroke="#7c7c7c" stroke-width="1.1" stroke-dasharray="3.8 3.07"/>
<line x1="480.5" x2="480.5" y1="44.23" y2="375.2" stroke="#7c7c7c" stroke-width="1.1" stroke-dasharray="3.8 3.07"/>
<line x1="536.55" x2="536.55" y1="40.8" y2="375.2" stroke="#3c3c3c" stroke-width="0.8" stroke-dasharray="3.9 3.06"/>
<polyline points="90.8,264.4 91.8,263.1 92.8,261.9 93.8,260.6 94.8,259.4 95.8,258.1 96.8,256.7 97.8,255.2 98.8,253.9 99.8,252.7 100.8,251.6 101.8,250.7 102.8,249.8 103.8,249.0 104.8,248.3 105.8,247.6 106.8,246.8 107.8,246.1 108.8,245.4 109.8,244.7 110.8,244.1 111.8,243.5 112.8,243.0 113.8,242.5 114.8,242.0 115.8,241.6 116.8,241.1 117.8,240.7 118.8,240.2 119.8,239.8 120.8,239.3 121.8,238.9 122.8,238.5 123.8,238.1 124.8,237.7 125.8,237.4 126.8,237.0 127.8,236.7 128.8,236.3 129.8,236.0 130.8,235.6 131.8,235.3 132.8,235.0 133.8,234.6 134.8,234.3 135.8,234.1 136.8,233.8 137.8,233.5 138.8,233.3 139.8,233.0 140.8,232.7 141.9,232.3 142.9,232.0 143.9,231.7 144.9,231.5 145.9,231.2 146.9,231.0 147.9,230.8 148.9,230.7 149.9,230.5 150.9,230.3 151.9,230.0 152.9,229.8 153.9,229.6 154.9,229.4 155.9,229.1 156.9,228.9 157.9,228.7 158.9,228.5 159.9,228.3 160.9,228.1 161.9,227.9 162.9,227.7 163.9,227.6 164.9,227.4 165.9,227.3 166.9,227.2 167.9,227.0 168.9,226.9 169.9,226.8 170.9,226.7 171.9,226.5 172.9,226.4 173.9,226.3 174.9,226.1 175.9,226.0 176.9,225.9 177.9,225.8 178.9,225.7 179.9,225.5 180.9,225.4 181.9,225.3 182.9,225.2 183.9,225.1 184.9,225.0 185.9,224.9 186.9,224.8 187.9,224.7 188.9,224.6 189.9,224.5 190.9,224.4 191.9,224.4 192.9,224.3 193.9,224.2 194.9,224.1 195.9,224.1 196.9,224.0 197.9,224.0 198.9,223.9 199.9,223.9 200.9,223.8 201.9,223.8 202.9,223.7 203.9,223.7 204.9,223.6 205.9,223.5 206.9,223.5 207.9,223.4 208.9,223.3 209.9,223.3 210.9,223.2 211.9,223.1 212.9,223.1 213.9,223.0 214.9,223.0 215.9,222.9 216.9,222.8 217.9,222.8 218.9,222.7 219.9,222.7 220.9,222.6 221.9,222.6 222.9,222.5 223.9,222.5 224.9,222.4 225.9,222.4 226.9,222.3 227.9,222.2 228.9,222.2 229.9,222.1 230.9,222.0 231.9,222.0 232.9,221.9 233.9,221.8 234.9,221.8 235.9,221.7 236.9,221.6 237.9,221.6 238.9,221.5 239.9,221.5 240.9,221.4 242.0,221.4 243.0,221.3 244.0,221.3 245.0,221.2 246.0,221.2 247.0,221.1 248.0,221.0 249.0,221.0 250.0,220.9 251.0,220.8 252.0,220.7 253.0,220.6 254.0,220.5 255.0,220.4 256.0,220.3 257.0,220.2 258.0,220.1 259.0,220.0 260.0,219.9 261.0,219.8 262.0,219.7 263.0,219.6 264.0,219.5 265.0,219.5 266.0,219.4 267.0,219.3 268.0,219.2 269.0,219.1 270.0,219.0 271.0,219.0 272.0,218.9 273.0,218.7 274.0,218.6 275.0,218.5 276.0,218.4 277.0,218.3 278.0,218.2 279.0,218.1 280.0,217.9 281.0,217.8 282.0,217.7 283.0,217.6 284.0,217.6 285.0,217.5 286.0,217.4 287.0,217.3 288.0,217.2 289.0,217.1 290.0,217.0 291.0,216.9 292.0,216.8 293.0,216.7 294.0,216.6 295.0,216.5 296.0,216.3 297.0,216.2 298.0,216.1 299.0,215.9 300.0,215.7 301.0,215.6 302.0,215.4 303.0,215.2 304.0,215.1 305.0,214.9 306.0,214.7 307.0,214.5 308.0,214.3 309.0,214.1 310.0,213.9 311.0,213.6 312.0,213.4 313.0,213.2 314.0,212.9 315.0,212.7 316.0,212.4 317.0,212.2 318.0,211.9 319.0,211.6 320.0,211.3 321.0,211.0 322.0,210.7 323.0,210.4 324.0,210.1 325.0,209.8 326.0,209.5 327.0,209.2 328.0,208.9 329.0,208.5 330.0,208.2 331.0,207.8 332.0,207.5 333.0,207.1 334.0,206.8 335.0,206.4 336.0,206.1 337.0,205.7 338.0,205.4 339.0,205.1 340.0,204.8 341.1,204.4 342.1,204.1 343.1,203.7 344.1,203.4 345.1,203.0 346.1,202.7 347.1,202.3 348.1,201.9 349.1,201.5 350.1,201.1 351.1,200.7 352.1,200.3 353.1,199.9 354.1,199.4 355.1,199.0 356.1,198.5 357.1,198.0 358.1,197.5 359.1,197.0 360.1,196.5 361.1,195.9 362.1,195.4 363.1,194.8 364.1,194.2 365.1,193.6 366.1,193.0 367.1,192.3 368.1,191.7 369.1,191.0 370.1,190.3 371.1,189.6 372.1,188.8 373.1,188.1 374.1,187.3 375.1,186.5 376.1,185.6 377.1,184.8 378.1,183.9 379.1,183.0 380.1,182.0 381.1,181.0 382.1,180.0 383.1,178.9 384.1,177.7 385.1,176.5 386.1,175.4 387.1,174.2 388.1,172.9 389.1,171.4 390.1,169.6 391.1,167.4 392.1,169.6 393.1,171.7 394.1,173.8 395.1,175.8 396.1,177.8 397.1,179.8 398.1,182.1 399.2,184.3 400.2,186.5 401.2,188.5 402.2,190.2 403.2,191.8 404.2,193.1 405.2,194.4 406.2,195.7 407.2,197.0 408.2,198.4 409.2,199.7 410.2,201.1 411.2,202.4 412.2,203.8 413.2,205.1 414.3,206.5 415.3,207.9 416.3,209.2 417.3,210.5 418.3,211.8 419.3,213.0 420.3,214.3 421.3,215.5 422.3,216.7 423.3,217.9 424.3,219.0 425.3,220.0 426.3,221.0 427.3,221.9 428.3,222.8 429.4,223.6 430.4,224.4 431.4,225.1 432.4,225.9 433.4,226.5 434.4,227.1 435.4,227.7 436.4,228.3 437.4,228.8 438.4,229.2 439.4,229.5 440.4,229.8 441.4,230.1 442.4,230.3 443.5,230.5 444.5,230.7 445.5,230.8 446.5,230.9 447.5,231.0 448.5,231.0 449.5,231.0 450.5,231.0 451.5,231.0 452.5,231.0 453.5,230.9 454.5,230.8 455.5,230.7 456.5,230.6 457.5,230.5 458.6,230.3 459.6,230.1 460.6,230.0 461.6,229.7 462.6,229.5 463.6,229.3 464.6,229.1 465.6,228.8 466.6,228.6 467.6,228.4 468.6,228.2 469.6,228.0 470.6,227.8 471.6,227.6 472.6,227.5 473.7,227.3 474.7,227.1 475.7,226.9 476.7,226.7 477.7,226.5 478.7,226.3 479.7,226.0 480.7,225.8 481.7,224.6 482.7,223.3 483.7,222.1 484.7,220.9 485.7,219.8 486.7,218.7 487.7,217.6 488.7,216.6 489.7,215.5 490.7,214.5 491.8,213.5 492.8,212.6 493.8,211.6 494.8,210.7 495.8,209.9 496.8,209.2 497.8,208.5 498.8,207.8 499.8,207.3 500.8,206.7 501.8,206.3 502.8,205.8 503.8,205.5 504.8,205.1 505.8,204.9 506.8,204.6 507.8,204.5 508.8,204.3 509.8,204.2 510.8,204.2 511.8,204.2 512.9,204.3 513.9,204.5 514.9,204.7 515.9,205.0 516.9,205.3 517.9,205.7 518.9,206.2 519.9,206.9 520.9,207.6 521.9,208.4 522.9,209.3 523.9,210.3 524.9,211.4 525.9,212.8 526.9,214.3 527.9,216.0 528.9,217.8 529.9,219.9 530.9,222.2 531.9,224.8 532.9,227.5 534.0,230.4 535.0,233.4 536.0,236.5 537.0,239.7 538.0,243.0 539.0,246.3 540.0,249.7 541.0,253.0 542.0,256.3 543.0,259.4 544.0,262.0 545.0,263.8 546.0,265.4 547.0,266.9 548.0,268.3 549.0,269.6 550.1,270.8 551.1,272.1 552.1,273.3 553.1,274.5 554.1,275.6 555.1,276.8 556.1,277.9 557.1,278.9 558.1,280.0 559.1,281.0 560.1,281.9 561.2,282.8 562.2,283.7 563.2,284.5 564.2,285.3 565.2,286.1 566.2,286.8 567.2,287.5 568.2,288.1 569.2,288.8 570.2,289.3 571.3,289.8 572.3,290.3 573.3,290.7 574.3,291.1 575.3,291.4 576.3,291.8 577.3,292.1 578.3,292.4 579.3,292.7 580.3,293.0 581.3,293.2 582.4,293.4 583.4,293.6 584.4,293.8 585.4,294.0 586.4,294.1 587.4,294.2 588.4,294.3 589.4,294.4 590.4,294.5 591.4,294.6 592.4,294.7 593.5,294.7 594.5,294.7 595.5,294.7 596.5,294.7 597.5,294.7 598.5,294.7 599.5,294.7 600.5,294.6 601.5,294.6 602.5,294.5 603.6,294.5 604.6,294.5 605.6,294.4 606.6,294.4 607.6,294.4 608.6,294.3 609.6,294.3 610.6,294.2 611.6,294.2 612.6,294.1 613.6,294.0 614.7,294.0 615.7,293.9 616.7,293.9 617.7,293.8 618.7,293.8 619.7,293.7" fill="none" stroke="#ff0000" stroke-width="2.0" stroke-linejoin="round"/>
<polyline points="90.8,264.6 91.8,264.6 92.8,264.5 93.8,264.5 94.8,264.4 95.8,264.4 96.8,264.3 97.8,264.2 98.8,264.1 99.8,264.0 100.8,263.9 101.8,263.8 102.8,263.6 103.8,263.5 104.8,263.3 105.8,263.2 106.8,263.1 107.8,262.9 108.8,262.8 109.8,262.7 110.8,262.6 111.8,262.4 112.8,262.3 113.8,262.2 114.8,262.0 115.8,261.9 116.8,261.8 117.8,261.7 118.8,261.6 119.8,261.5 120.8,261.4 121.8,261.2 122.8,261.1 123.8,261.0 124.8,260.9 125.8,260.9 126.8,260.8 127.8,260.7 128.8,260.6 129.8,260.5 130.8,260.4 131.8,260.3 132.8,260.2 133.8,260.1 134.8,260.0 135.8,259.9 136.8,259.8 137.8,259.7 138.8,259.7 139.8,259.6 140.8,259.5 141.8,259.4 142.8,259.3 143.8,259.2 144.8,259.1 145.8,259.0 146.8,258.9 147.8,258.8 148.8,258.7 149.8,258.6 150.8,258.5 151.8,258.5 152.8,258.4 153.8,258.3 154.8,258.2 155.8,258.1 156.8,258.1 157.8,258.0 158.8,257.9 159.8,257.8 160.8,257.7 161.8,257.7 162.8,257.6 163.8,257.5 164.8,257.4 165.8,257.3 166.8,257.2 167.8,257.1 168.8,257.0 169.8,257.0 170.8,256.9 171.8,256.8 172.8,256.8 173.8,256.7 174.8,256.7 175.8,256.6 176.8,256.6 177.8,256.5 178.8,256.5 179.8,256.4 180.8,256.4 181.8,256.3 182.8,256.3 183.8,256.3 184.8,256.2 185.8,256.2 186.8,256.2 187.8,256.1 188.8,256.1 189.8,256.1 190.8,256.0 191.8,256.0 192.8,256.0 193.8,255.9 194.8,255.9 195.8,255.8 196.8,255.8 197.8,255.7 198.8,255.6 199.8,255.6 200.8,255.5 201.8,255.5 202.8,255.4 203.8,255.4 204.8,255.3 205.8,255.3 206.8,255.2 207.8,255.1 208.8,255.1 209.8,255.0 210.8,255.0 211.8,254.9 212.8,254.9 213.8,254.9 214.8,254.8 215.8,254.8 216.8,254.8 217.8,254.8 218.8,254.8 219.8,254.7 220.8,254.7 221.8,254.7 222.8,254.7 223.8,254.7 224.8,254.7 225.8,254.7 226.8,254.7 227.8,254.7 228.8,254.7 229.8,254.7 230.8,254.7 231.8,254.7 232.8,254.7 233.8,254.7 234.8,254.7 235.8,254.7 236.8,254.7 237.8,254.7 238.8,254.7 239.8,254.7 240.8,254.7 241.8,254.6 242.8,254.6 243.8,254.6 244.8,254.5 245.8,254.5 246.8,254.5 247.8,254.4 248.8,254.4 249.8,254.3 250.8,254.3 251.8,254.2 252.8,254.1 253.8,254.1 254.8,254.0 255.8,253.9 256.8,253.8 257.8,253.7 258.8,253.7 259.8,253.6 260.8,253.5 261.8,253.5 262.8,253.4 263.8,253.4 264.8,253.3 265.8,253.2 266.8,253.2 267.8,253.1 268.8,253.1 269.8,253.0 270.8,253.0 271.8,252.9 272.8,252.9 273.8,252.8 274.8,252.8 275.8,252.7 276.8,252.6 277.8,252.6 278.8,252.5 279.8,252.5 280.8,252.4 281.8,252.4 282.8,252.3 283.8,252.3 284.8,252.3 285.8,252.2 286.8,252.2 287.8,252.2 288.8,252.1 289.8,252.1 290.8,252.1 291.8,252.0 292.8,252.0 293.8,251.9 294.8,251.9 295.8,251.8 296.8,251.7 297.8,251.7 298.8,251.6 299.8,251.5 300.8,251.4 301.8,251.3 302.8,251.2 303.8,251.2 304.8,251.1 305.8,251.0 306.8,250.9 307.8,250.8 308.8,250.6 309.8,250.5 310.8,250.4 311.8,250.3 312.8,250.2 313.8,250.0 314.8,249.9 315.8,249.8 316.8,249.7 317.8,249.5 318.8,249.4 319.8,249.3 320.8,249.1 321.8,249.0 322.8,248.8 323.8,248.7 324.8,248.5 325.8,248.4 326.8,248.2 327.8,248.1 328.8,247.9 329.8,247.8 330.8,247.6 331.8,247.4 332.8,247.2 333.8,247.0 334.8,246.8 335.8,246.6 336.8,246.4 337.8,246.2 338.8,245.9 339.8,245.7 340.8,245.4 341.8,245.1 342.8,244.8 343.8,244.5 344.8,244.2 345.8,243.9 346.8,243.7 347.8,243.4 348.8,243.1 349.8,242.9 350.8,242.6 351.8,242.4 352.8,242.1 353.8,241.9 354.8,241.6 355.8,241.3 356.8,241.0 357.8,240.6 358.8,240.3 359.8,239.8 360.8,239.3 361.8,238.8 362.8,238.3 363.8,237.7 364.8,237.1 365.8,236.5 366.8,235.9 367.8,235.2 368.8,234.6 369.8,233.9 370.8,233.2 371.8,232.5 372.8,231.7 373.8,230.9 374.8,230.1 375.8,229.2 376.8,228.2 377.8,227.2 378.8,226.2 379.8,225.2 380.8,224.2 381.8,223.3 382.8,222.3 383.8,221.2 384.8,219.9 385.8,218.4 386.8,216.6 387.8,214.3 388.8,211.7 389.8,208.7 390.8,205.3 391.8,202.6 392.8,199.9 393.8,197.2 394.8,194.9 395.8,193.0 396.8,191.2 397.8,189.6 398.8,188.0 399.8,186.6 400.8,185.3 401.8,184.0 402.8,182.7 403.8,181.5 404.8,180.4 405.8,179.5 406.8,178.6 407.8,177.8 408.8,177.1 409.8,176.5 410.8,175.9 411.8,175.4 412.8,175.0 413.8,174.6 414.8,174.3 415.8,174.1 416.8,173.8 417.8,173.7 418.8,173.7 419.8,173.7 420.8,173.7 421.8,173.7 422.8,173.7 423.8,173.8 424.8,174.0 425.8,174.3 426.8,174.6 427.8,175.0 428.8,175.5 429.8,176.0 430.8,176.4 431.8,176.8 432.8,177.2 433.8,177.6 434.8,178.0 435.8,178.4 436.8,178.9 437.8,179.3 438.8,179.7 439.8,180.1 440.8,180.5 441.8,180.8 442.8,181.1 443.8,181.4 444.8,181.7 445.8,181.9 446.8,182.2 447.8,182.4 448.8,182.7 449.8,182.9 450.8,183.1 451.8,183.3 452.8,183.5 453.8,183.7 454.8,183.9 455.8,184.0 456.8,184.0 457.8,184.0 458.8,184.0 459.8,184.0 460.8,184.0 461.8,184.0 462.8,183.9 463.8,183.7 464.8,183.5 465.8,183.3 466.8,183.1 467.8,182.9 468.8,182.7 469.8,182.5 470.8,182.2 471.8,182.0 472.8,181.7 473.8,181.4 474.8,181.1 475.8,180.8 476.8,180.5 478.0,181.6 479.1,182.7 480.3,183.8 481.5,184.9 482.5,184.6 483.5,184.2 484.5,183.7 485.6,183.1 486.6,182.3 487.6,181.5 488.6,180.5 489.6,179.5 490.6,178.4 491.6,177.2 492.7,176.0 493.7,174.8 494.7,173.6 495.7,172.3 496.7,170.9 497.7,169.6 498.8,168.1 499.8,166.7 500.8,165.2 501.8,163.7 502.8,162.2 503.8,160.7 504.8,159.2 505.9,157.6 506.9,156.1 507.9,154.5 508.9,153.0 509.9,151.4 510.9,149.8 511.9,148.2 513.0,146.5 514.0,144.5 515.0,142.4 516.0,140.1 517.0,137.9 518.0,135.7 519.0,133.6 520.1,131.5 521.1,129.3 522.1,127.2 523.1,125.0 524.1,122.8 525.1,120.6 526.2,118.3 527.2,116.1 528.2,113.8 529.2,111.6 530.2,109.4 531.2,107.0 532.2,104.4 533.3,101.6 534.3,98.8 535.3,96.0 536.3,93.2 537.3,95.3 538.3,97.3 539.3,99.3 540.3,101.3 541.3,103.1 542.3,105.0 543.3,106.8 544.3,108.1 545.3,109.1 546.3,110.0 547.4,110.7 548.4,111.5 549.4,112.4 550.4,113.3 551.4,114.2 552.4,115.2 553.4,116.2 554.4,117.1 555.4,118.0 556.4,119.0 557.4,119.9 558.4,120.8 559.4,121.7 560.4,122.6 561.4,123.5 562.4,124.4 563.4,125.2 564.4,126.1 565.4,126.9 566.4,127.7 567.4,128.6 568.5,129.4 569.5,130.2 570.5,131.0 571.5,131.9 572.5,132.7 573.5,133.5 574.5,134.3 575.5,135.1 576.5,135.9 577.5,136.6 578.5,137.3 579.5,138.1 580.5,138.8 581.5,139.5 582.5,140.2 583.5,140.9 584.5,141.6 585.5,142.3 586.5,143.0 587.5,143.7 588.6,144.5 589.6,145.1 590.6,145.8 591.6,146.5 592.6,147.1 593.6,147.7 594.6,148.3 595.6,148.9 596.6,149.5 597.6,150.1 598.6,150.6 599.6,151.2 600.6,151.7 601.6,152.2 602.6,152.7 603.6,153.2 604.6,153.7 605.6,154.2 606.6,154.7 607.6,155.2 608.6,155.7 609.7,156.2 610.7,156.7 611.7,157.2 612.7,157.7 613.7,158.2 614.7,158.6 615.7,159.1 616.7,159.6 617.7,160.1 618.7,160.5 619.7,161.0" fill="none" stroke="#0000ff" stroke-width="2.0" stroke-linejoin="round"/>
<path d="M95.70,257.4V258.6M106.62,246.3V247.5M117.55,241.3V242.5M128.48,237.0V238.2M139.40,234.3V235.5M150.32,231.7V232.9M161.25,229.7V230.9M172.18,228.4V229.6M183.10,226.7V227.9M194.03,225.7V226.9M204.95,224.9V226.1M215.88,223.5V224.7M226.80,222.2V223.4M237.73,220.8V222.0M248.65,213.9V226.7M259.57,212.2V225.4M270.50,211.1V224.0M281.43,209.5V222.2M292.35,207.8V220.6M303.28,205.7V218.8M314.20,203.4V216.6M325.12,200.5V213.7M336.05,197.1V210.2M346.98,192.7V205.9M357.90,187.8V201.2M368.82,182.2V195.6M379.75,175.0V188.1M390.68,165.8V179.1M401.60,191.0V204.2M412.53,213.7V226.8M423.45,229.8V242.9M434.38,237.0V250.2M445.30,237.8V250.9M456.23,234.1V247.3M467.08,226.9V240.2M477.93,216.5V229.6M488.78,203.0V216.3M499.62,192.0V205.0M510.48,196.7V209.6M521.33,218.4V231.7M532.18,242.1V255.2M543.02,260.5V273.7M553.88,273.1V286.1M564.73,281.3V294.4M575.58,287.8V300.9M586.42,293.1V305.9M597.27,296.1V309.0M608.12,298.1V311.1M618.98,299.7V313.0" stroke="#ff0000" stroke-width="2.0" fill="none"/><path d="M93.50,257.4H97.90M93.50,258.6H97.90M104.42,246.3H108.83M104.42,247.5H108.83M115.35,241.3H119.75M115.35,242.5H119.75M126.28,237.0H130.68M126.28,238.2H130.68M137.20,234.3H141.60M137.20,235.5H141.60M148.12,231.7H152.52M148.12,232.9H152.52M159.05,229.7H163.45M159.05,230.9H163.45M169.98,228.4H174.38M169.98,229.6H174.38M180.90,226.7H185.30M180.90,227.9H185.30M191.83,225.7H196.22M191.83,226.9H196.22M202.75,224.9H207.15M202.75,226.1H207.15M213.68,223.5H218.07M213.68,224.7H218.07M224.60,222.2H229.00M224.60,223.4H229.00M235.53,220.8H239.93M235.53,222.0H239.93M246.45,213.9H250.85M246.45,226.7H250.85M257.38,212.2H261.77M257.38,225.4H261.77M268.30,211.1H272.70M268.30,224.0H272.70M279.23,209.5H283.62M279.23,222.2H283.62M290.15,207.8H294.55M290.15,220.6H294.55M301.08,205.7H305.48M301.08,218.8H305.48M312.00,203.4H316.40M312.00,216.6H316.40M322.93,200.5H327.32M322.93,213.7H327.32M333.85,197.1H338.25M333.85,210.2H338.25M344.78,192.7H349.18M344.78,205.9H349.18M355.70,187.8H360.10M355.70,201.2H360.10M366.62,182.2H371.02M366.62,195.6H371.02M377.55,175.0H381.95M377.55,188.1H381.95M388.48,165.8H392.88M388.48,179.1H392.88M399.40,191.0H403.80M399.40,204.2H403.80M410.33,213.7H414.73M410.33,226.8H414.73M421.25,229.8H425.65M421.25,242.9H425.65M432.18,237.0H436.57M432.18,250.2H436.57M443.10,237.8H447.50M443.10,250.9H447.50M454.03,234.1H458.43M454.03,247.3H458.43M464.88,226.9H469.28M464.88,240.2H469.28M475.73,216.5H480.12M475.73,229.6H480.12M486.58,203.0H490.98M486.58,216.3H490.98M497.43,192.0H501.82M497.43,205.0H501.82M508.28,196.7H512.68M508.28,209.6H512.68M519.12,218.4H523.53M519.12,231.7H523.53M529.98,242.1H534.38M529.98,255.2H534.38M540.82,260.5H545.23M540.82,273.7H545.23M551.67,273.1H556.08M551.67,286.1H556.08M562.52,281.3H566.93M562.52,294.4H566.93M573.38,287.8H577.78M573.38,300.9H577.78M584.22,293.1H588.62M584.22,305.9H588.62M595.07,296.1H599.48M595.07,309.0H599.48M605.92,298.1H610.33M605.92,311.1H610.33M616.77,299.7H621.18M616.77,313.0H621.18" stroke="#ff0000" stroke-width="1.8" fill="none"/><circle cx="248.65" cy="220.3" r="1.25" fill="#ff0000"/><circle cx="259.57" cy="218.8" r="1.25" fill="#ff0000"/><circle cx="270.50" cy="217.6" r="1.25" fill="#ff0000"/><circle cx="281.43" cy="215.8" r="1.25" fill="#ff0000"/><circle cx="292.35" cy="214.2" r="1.25" fill="#ff0000"/><circle cx="303.28" cy="212.2" r="1.25" fill="#ff0000"/><circle cx="314.20" cy="210.0" r="1.25" fill="#ff0000"/><circle cx="325.12" cy="207.1" r="1.25" fill="#ff0000"/><circle cx="336.05" cy="203.6" r="1.25" fill="#ff0000"/><circle cx="346.98" cy="199.3" r="1.25" fill="#ff0000"/><circle cx="357.90" cy="194.5" r="1.25" fill="#ff0000"/><circle cx="368.82" cy="188.9" r="1.25" fill="#ff0000"/><circle cx="379.75" cy="181.6" r="1.25" fill="#ff0000"/><circle cx="390.68" cy="172.4" r="1.25" fill="#ff0000"/><circle cx="401.60" cy="197.6" r="1.25" fill="#ff0000"/><circle cx="412.53" cy="220.2" r="1.25" fill="#ff0000"/><circle cx="423.45" cy="236.4" r="1.25" fill="#ff0000"/><circle cx="434.38" cy="243.6" r="1.25" fill="#ff0000"/><circle cx="445.30" cy="244.4" r="1.25" fill="#ff0000"/><circle cx="456.23" cy="240.7" r="1.25" fill="#ff0000"/><circle cx="467.08" cy="233.6" r="1.25" fill="#ff0000"/><circle cx="477.93" cy="223.1" r="1.25" fill="#ff0000"/><circle cx="488.78" cy="209.7" r="1.25" fill="#ff0000"/><circle cx="499.62" cy="198.5" r="1.25" fill="#ff0000"/><circle cx="510.48" cy="203.1" r="1.25" fill="#ff0000"/><circle cx="521.33" cy="225.0" r="1.25" fill="#ff0000"/><circle cx="532.18" cy="248.6" r="1.25" fill="#ff0000"/><circle cx="543.02" cy="267.1" r="1.25" fill="#ff0000"/><circle cx="553.88" cy="279.6" r="1.25" fill="#ff0000"/><circle cx="564.73" cy="287.9" r="1.25" fill="#ff0000"/><circle cx="575.58" cy="294.4" r="1.25" fill="#ff0000"/><circle cx="586.42" cy="299.5" r="1.25" fill="#ff0000"/><circle cx="597.27" cy="302.6" r="1.25" fill="#ff0000"/><circle cx="608.12" cy="304.6" r="1.25" fill="#ff0000"/><circle cx="618.98" cy="306.4" r="1.25" fill="#ff0000"/>
<path d="M95.70,263.3V264.5M106.62,262.2V263.4M117.55,261.4V262.6M128.48,260.4V261.6M139.40,259.5V260.7M150.32,259.1V260.3M161.25,259.0V260.2M172.18,258.3V259.5M183.10,258.0V259.2M194.03,257.3V258.5M204.95,256.9V258.1M215.88,256.2V257.4M226.80,255.6V256.8M237.73,255.1V256.3M248.65,248.3V261.5M259.57,247.6V260.8M270.50,246.7V259.7M281.43,245.8V258.9M292.35,244.9V257.9M303.28,243.2V256.8M314.20,241.9V255.0M325.12,239.6V252.7M336.05,236.9V250.0M346.98,233.0V246.0M357.90,228.1V241.2M368.82,221.2V234.6M379.75,209.4V222.9M390.68,185.5V198.8M401.60,160.9V174.5M412.53,156.8V170.6M423.45,163.3V177.0M434.38,172.7V185.9M445.30,180.7V194.3M456.23,185.5V199.5M467.08,188.4V201.7M477.93,186.7V199.6M488.78,177.0V189.9M499.62,155.5V168.6M510.48,125.1V137.9M521.33,103.6V116.7M532.18,96.8V109.9M543.02,98.6V111.7M553.88,103.2V116.3M564.73,107.0V120.5M575.58,111.6V124.6M586.42,115.7V128.7M597.27,118.9V131.8M608.12,121.5V134.8M618.98,123.7V137.2" stroke="#0000ff" stroke-width="2.0" fill="none"/><path d="M93.50,263.3H97.90M93.50,264.5H97.90M104.42,262.2H108.83M104.42,263.4H108.83M115.35,261.4H119.75M115.35,262.6H119.75M126.28,260.4H130.68M126.28,261.6H130.68M137.20,259.5H141.60M137.20,260.7H141.60M148.12,259.1H152.52M148.12,260.3H152.52M159.05,259.0H163.45M159.05,260.2H163.45M169.98,258.3H174.38M169.98,259.5H174.38M180.90,258.0H185.30M180.90,259.2H185.30M191.83,257.3H196.22M191.83,258.5H196.22M202.75,256.9H207.15M202.75,258.1H207.15M213.68,256.2H218.07M213.68,257.4H218.07M224.60,255.6H229.00M224.60,256.8H229.00M235.53,255.1H239.93M235.53,256.3H239.93M246.45,248.3H250.85M246.45,261.5H250.85M257.38,247.6H261.77M257.38,260.8H261.77M268.30,246.7H272.70M268.30,259.7H272.70M279.23,245.8H283.62M279.23,258.9H283.62M290.15,244.9H294.55M290.15,257.9H294.55M301.08,243.2H305.48M301.08,256.8H305.48M312.00,241.9H316.40M312.00,255.0H316.40M322.93,239.6H327.32M322.93,252.7H327.32M333.85,236.9H338.25M333.85,250.0H338.25M344.78,233.0H349.18M344.78,246.0H349.18M355.70,228.1H360.10M355.70,241.2H360.10M366.62,221.2H371.02M366.62,234.6H371.02M377.55,209.4H381.95M377.55,222.9H381.95M388.48,185.5H392.88M388.48,198.8H392.88M399.40,160.9H403.80M399.40,174.5H403.80M410.33,156.8H414.73M410.33,170.6H414.73M421.25,163.3H425.65M421.25,177.0H425.65M432.18,172.7H436.57M432.18,185.9H436.57M443.10,180.7H447.50M443.10,194.3H447.50M454.03,185.5H458.43M454.03,199.5H458.43M464.88,188.4H469.28M464.88,201.7H469.28M475.73,186.7H480.12M475.73,199.6H480.12M486.58,177.0H490.98M486.58,189.9H490.98M497.43,155.5H501.82M497.43,168.6H501.82M508.28,125.1H512.68M508.28,137.9H512.68M519.12,103.6H523.53M519.12,116.7H523.53M529.98,96.8H534.38M529.98,109.9H534.38M540.82,98.6H545.23M540.82,111.7H545.23M551.67,103.2H556.08M551.67,116.3H556.08M562.52,107.0H566.93M562.52,120.5H566.93M573.38,111.6H577.78M573.38,124.6H577.78M584.22,115.7H588.62M584.22,128.7H588.62M595.07,118.9H599.48M595.07,131.8H599.48M605.92,121.5H610.33M605.92,134.8H610.33M616.77,123.7H621.18M616.77,137.2H621.18" stroke="#0000ff" stroke-width="1.8" fill="none"/><circle cx="248.65" cy="254.9" r="1.25" fill="#0000ff"/><circle cx="259.57" cy="254.2" r="1.25" fill="#0000ff"/><circle cx="270.50" cy="253.2" r="1.25" fill="#0000ff"/><circle cx="281.43" cy="252.3" r="1.25" fill="#0000ff"/><circle cx="292.35" cy="251.4" r="1.25" fill="#0000ff"/><circle cx="303.28" cy="250.0" r="1.25" fill="#0000ff"/><circle cx="314.20" cy="248.4" r="1.25" fill="#0000ff"/><circle cx="325.12" cy="246.1" r="1.25" fill="#0000ff"/><circle cx="336.05" cy="243.4" r="1.25" fill="#0000ff"/><circle cx="346.98" cy="239.5" r="1.25" fill="#0000ff"/><circle cx="357.90" cy="234.6" r="1.25" fill="#0000ff"/><circle cx="368.82" cy="227.9" r="1.25" fill="#0000ff"/><circle cx="379.75" cy="216.2" r="1.25" fill="#0000ff"/><circle cx="390.68" cy="192.2" r="1.25" fill="#0000ff"/><circle cx="401.60" cy="167.7" r="1.25" fill="#0000ff"/><circle cx="412.53" cy="163.7" r="1.25" fill="#0000ff"/><circle cx="423.45" cy="170.2" r="1.25" fill="#0000ff"/><circle cx="434.38" cy="179.3" r="1.25" fill="#0000ff"/><circle cx="445.30" cy="187.5" r="1.25" fill="#0000ff"/><circle cx="456.23" cy="192.5" r="1.25" fill="#0000ff"/><circle cx="467.08" cy="195.1" r="1.25" fill="#0000ff"/><circle cx="477.93" cy="193.1" r="1.25" fill="#0000ff"/><circle cx="488.78" cy="183.4" r="1.25" fill="#0000ff"/><circle cx="499.62" cy="162.1" r="1.25" fill="#0000ff"/><circle cx="510.48" cy="131.5" r="1.25" fill="#0000ff"/><circle cx="521.33" cy="110.2" r="1.25" fill="#0000ff"/><circle cx="532.18" cy="103.3" r="1.25" fill="#0000ff"/><circle cx="543.02" cy="105.2" r="1.25" fill="#0000ff"/><circle cx="553.88" cy="109.8" r="1.25" fill="#0000ff"/><circle cx="564.73" cy="113.8" r="1.25" fill="#0000ff"/><circle cx="575.58" cy="118.1" r="1.25" fill="#0000ff"/><circle cx="586.42" cy="122.2" r="1.25" fill="#0000ff"/><circle cx="597.27" cy="125.4" r="1.25" fill="#0000ff"/><circle cx="608.12" cy="128.2" r="1.25" fill="#0000ff"/><circle cx="618.98" cy="130.4" r="1.25" fill="#0000ff"/>
<rect x="544.0" y="43.4" width="5.6" height="331.8" fill="#000"/>
</g>
<path d="M81.3,42.55V376.4" stroke="#000" stroke-width="2" fill="none"/>
<path d="M80.3,375.34999999999997H620.35" stroke="#000" stroke-width="2.2" fill="none"/>
<path d="M81.3,43.0H619.5V375.2" stroke="#000" stroke-width="2" fill="none" stroke-linejoin="miter"/>
<path d="M91.0,43.4v3M391.2,43.4v3M480.5,43.4v3M536.9,43.4v3" stroke="#000" stroke-width="1.6" fill="none"/>
<path d="M95.64,375.2v-2.1M110.20,375.2v-3.2M124.76,375.2v-2.1M139.32,375.2v-2.1M153.87,375.2v-2.1M168.43,375.2v-2.1M182.99,375.2v-3.2M197.55,375.2v-2.1M212.11,375.2v-2.1M226.66,375.2v-2.1M241.22,375.2v-2.1M255.78,375.2v-3.2M270.34,375.2v-2.1M284.90,375.2v-2.1M299.45,375.2v-2.1M314.01,375.2v-2.1M328.57,375.2v-3.2M343.13,375.2v-2.1M357.69,375.2v-2.1M372.24,375.2v-2.1M386.80,375.2v-2.1M401.36,375.2v-3.2M415.92,375.2v-2.1M430.48,375.2v-2.1M445.03,375.2v-2.1M459.59,375.2v-2.1M474.15,375.2v-3.2M488.71,375.2v-2.1M503.27,375.2v-2.1M517.82,375.2v-2.1M532.38,375.2v-2.1M546.94,375.2v-3.2M561.50,375.2v-2.1M576.06,375.2v-2.1M590.61,375.2v-2.1M605.17,375.2v-2.1M619.73,375.2v-3.2M81.3,375.20h2.2M81.3,364.13h2.2M81.3,353.06h3.6M81.3,341.99h2.2M81.3,330.92h2.2M81.3,319.85h2.2M81.3,308.78h3.6M81.3,297.71h2.2M81.3,286.64h2.2M81.3,275.57h2.2M81.3,264.50h3.6M81.3,253.43h2.2M81.3,242.36h2.2M81.3,231.29h2.2M81.3,220.22h3.6M81.3,209.15h2.2M81.3,198.08h2.2M81.3,187.01h2.2M81.3,175.94h3.6M81.3,164.87h2.2M81.3,153.80h2.2M81.3,142.73h2.2M81.3,131.66h3.6M81.3,120.59h2.2M81.3,109.52h2.2M81.3,98.45h2.2M81.3,87.38h3.6M81.3,76.31h2.2M81.3,65.24h2.2M81.3,54.17h2.2M81.3,43.10h3.6" stroke="#000" stroke-width="1.4" fill="none"/>
<text x="110.5" y="391.2" text-anchor="middle" font-family="Liberation Serif, serif" font-weight="bold" font-size="17.7" fill="#000" >1100</text>
<text x="183.3" y="391.2" text-anchor="middle" font-family="Liberation Serif, serif" font-weight="bold" font-size="17.7" fill="#000" >1200</text>
<text x="256.1" y="391.2" text-anchor="middle" font-family="Liberation Serif, serif" font-weight="bold" font-size="17.7" fill="#000" >1300</text>
<text x="328.9" y="391.2" text-anchor="middle" font-family="Liberation Serif, serif" font-weight="bold" font-size="17.7" fill="#000" >1400</text>
<text x="401.7" y="391.2" text-anchor="middle" font-family="Liberation Serif, serif" font-weight="bold" font-size="17.7" fill="#000" >1500</text>
<text x="474.4" y="391.2" text-anchor="middle" font-family="Liberation Serif, serif" font-weight="bold" font-size="17.7" fill="#000" >1600</text>
<text x="547.2" y="391.2" text-anchor="middle" font-family="Liberation Serif, serif" font-weight="bold" font-size="17.7" fill="#000" >1700</text>
<text x="620.0" y="391.2" text-anchor="middle" font-family="Liberation Serif, serif" font-weight="bold" font-size="17.7" fill="#000" >1800</text>
<rect x="45.2" y="352.0" width="10.8" height="2" fill="#000"/>
<text x="78.7" y="357.9" text-anchor="end" font-family="Liberation Serif, serif" font-weight="bold" font-size="17.7" fill="#000" >0.4</text>
<rect x="45.2" y="307.7" width="10.8" height="2" fill="#000"/>
<text x="78.7" y="313.6" text-anchor="end" font-family="Liberation Serif, serif" font-weight="bold" font-size="17.7" fill="#000" >0.2</text>
<text x="78.7" y="269.3" text-anchor="end" font-family="Liberation Serif, serif" font-weight="bold" font-size="17.7" fill="#000" >0.0</text>
<text x="78.7" y="225.0" text-anchor="end" font-family="Liberation Serif, serif" font-weight="bold" font-size="17.7" fill="#000" >0.2</text>
<text x="78.7" y="180.7" text-anchor="end" font-family="Liberation Serif, serif" font-weight="bold" font-size="17.7" fill="#000" >0.4</text>
<text x="78.7" y="136.5" text-anchor="end" font-family="Liberation Serif, serif" font-weight="bold" font-size="17.7" fill="#000" >0.6</text>
<text x="78.7" y="92.2" text-anchor="end" font-family="Liberation Serif, serif" font-weight="bold" font-size="17.7" fill="#000" >0.8</text>
<text x="78.7" y="47.9" text-anchor="end" font-family="Liberation Serif, serif" font-weight="bold" font-size="17.7" fill="#000" >1.0</text>
<text x="90.3" y="36.6" text-anchor="middle" font-family="Liberation Serif, serif" font-weight="bold" font-size="17" fill="#000" ><tspan font-style="italic">π</tspan>N</text>
<text x="391.0" y="36.9" text-anchor="middle" font-family="Liberation Serif, serif" font-weight="bold" font-size="17" fill="#000" ><tspan font-style="italic">η</tspan>N</text>
<text x="481.1" y="36.9" text-anchor="middle" font-family="Liberation Serif, serif" font-weight="bold" font-size="17" fill="#000" >KΛ</text>
<text x="537.3" y="36.9" text-anchor="middle" font-family="Liberation Serif, serif" font-weight="bold" font-size="17" fill="#000" >KΣ</text>
<text x="308.6" y="412.2" text-anchor="start" font-family="Liberation Serif, serif" font-weight="bold" font-size="17.3" fill="#000" ><tspan font-style="italic">W</tspan><tspan font-size="12.2" dy="3.3">cms</tspan><tspan dy="-3.3">[MeV]</tspan></text>
<g transform="translate(346.9,335.7) scale(1,1.13)"><text x="0" y="0" text-anchor="start" font-family="Liberation Serif, serif" font-weight="bold" font-size="13.8" fill="#ff0000" stroke="#ff0000" stroke-width="0.3">ReS11</text></g>
<g transform="translate(564.1,180.1) scale(1,1.13)"><text x="0" y="0" text-anchor="start" font-family="Liberation Serif, serif" font-weight="bold" font-size="13.8" fill="#0000ff" stroke="#0000ff" stroke-width="0.3">ImS11</text></g>
</svg>
</body></html>
